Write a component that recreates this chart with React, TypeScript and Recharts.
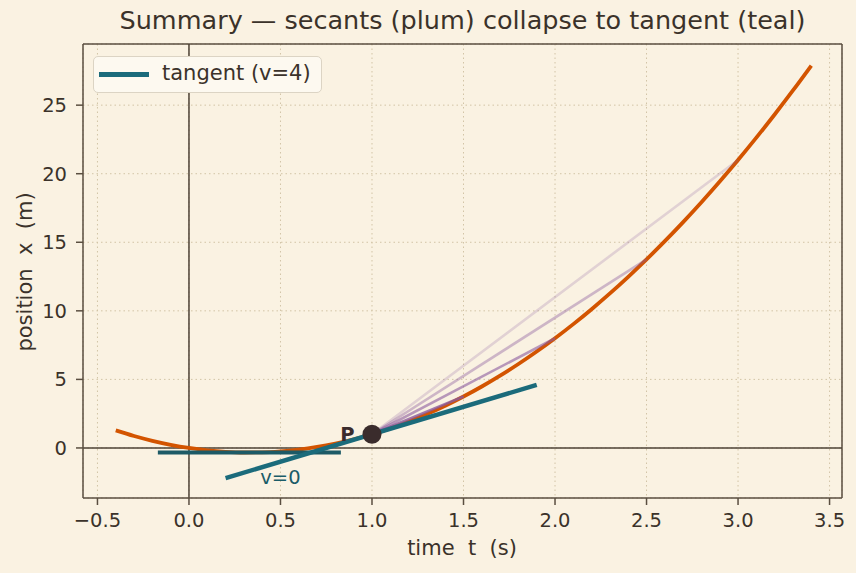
import React from 'react';
import { ComposedChart, Line, XAxis, YAxis, CartesianGrid, ReferenceDot, ReferenceLine } from 'recharts';

const curveT = [-0.4,-0.3,-0.2,-0.1,0,0.1,0.2,0.3,0.4,0.5,0.6,0.7,0.8,0.9,1.0,1.1,1.2,1.3,1.4,1.5,1.6,1.7,1.8,1.9,2.0,2.1,2.2,2.3,2.4,2.5,2.6,2.7,2.8,2.9,3.0,3.1,3.2,3.3,3.4];
const curveX = [1.28,0.87,0.52,0.23,0,-0.17,-0.28,-0.33,-0.32,-0.25,-0.12,0.07,0.32,0.63,1,1.43,1.92,2.47,3.08,3.75,4.48,5.27,6.12,7.03,8,9.03,10.12,11.27,12.48,13.75,15.08,16.47,17.92,19.43,21,22.63,24.32,26.07,27.88];

const pointT = 1;
const pointX = 1;
const secantEndT = [3, 2.5, 2, 1.5];
const secantEndX = [21, 13.75, 8, 3.75];
const tangentT = [0.2, 1.9];
const tangentX = [-2.2, 4.6];
const flatT = [-0.17, 0.83];
const flatX = [-0.33, -0.33];
const xTicks = [-0.5, 0, 0.5, 1.0, 1.5, 2.0, 2.5, 3.0, 3.5];
const yTicks = [0, 5, 10, 15, 20, 25];
const xDomain = [-0.579, 3.568];
const yDomain = [-3.65, 29.46];
const legendLabel = 'tangent (v=4)';
const titleText = 'Summary — secants (plum) collapse to tangent (teal)';

const curveData = curveT.map((t, i) => ({ t, x: curveX[i] }));
const secantData = secantEndT.map((t, i) => [{ t: pointT, x: pointX }, { t, x: secantEndX[i] }]);
const tangentData = tangentT.map((t, i) => ({ t, x: tangentX[i] }));
const flatData = flatT.map((t, i) => ({ t, x: flatX[i] }));
const hZero = [{ t: -5, x: 0 }, { t: 10, x: 0 }];
const vZero = [{ t: 0, x: -50 }, { t: 0, x: 100 }];

const secantOpacity = [0.22, 0.4, 0.6, 0.8];
const FONT = '"DejaVu Sans", sans-serif';
const TEXT = '#3b322a';
const AX = '#5a4e40';
const TEAL = '#1b6b7b';

const fmtX = (v: number) => (v < 0 ? '\u2212' + Math.abs(v).toFixed(1) : v.toFixed(1));

const LegendBox = () => (
  <div style={{ position: 'absolute', left: 93, top: 56, background: '#fdf9f0', border: '1.5px solid #dcd4c4', borderRadius: 5, width: 229, height: 37, boxSizing: 'border-box', fontFamily: FONT, fontSize: 21, color: TEXT }}>
    <div style={{ position: 'absolute', left: 5, top: 15, width: 50, height: 4.5, background: TEAL }} />
    <div style={{ position: 'absolute', left: 68, top: 3, whiteSpace: 'pre', lineHeight: '27px' }}>{legendLabel}</div>
  </div>
);

export default function App() {
  return (
    <div style={{ position: 'absolute', left: 0, top: 0, width: 856, height: 573, background: '#faf2e2' }}>
      <ComposedChart width={856} height={573} margin={{ top: 44, right: 14, bottom: 0, left: 0 }}>
        <CartesianGrid stroke="#d2c4a6" strokeDasharray="1.5 3" strokeWidth={1} />
        <XAxis
          dataKey="t"
          type="number"
          domain={xDomain}
          allowDataOverflow
          ticks={xTicks}
          tickFormatter={fmtX}
          height={75}
          tickSize={7}
          tickMargin={8}
          stroke={AX}
          strokeWidth={1.5}
          tick={{ fill: TEXT, fontSize: 19.5, fontFamily: FONT }}
          label={() => (
            <text x={462} y={555} textAnchor="middle" fill={TEXT} fontSize={21} fontFamily={FONT} style={{ whiteSpace: 'pre' }}>time  t  (s)</text>
          )}
        />
        <YAxis
          dataKey="x"
          type="number"
          domain={yDomain}
          allowDataOverflow
          ticks={yTicks}
          width={83}
          tickSize={7}
          tickMargin={9}
          stroke={AX}
          strokeWidth={1.5}
          tick={{ fill: TEXT, fontSize: 19.5, fontFamily: FONT }}
          label={() => (
            <text x={32} y={272} textAnchor="middle" fill={TEXT} fontSize={21} fontFamily={FONT} transform="rotate(-90 32 272)" style={{ whiteSpace: 'pre' }}>position  x  (m)</text>
          )}
        />
        <ReferenceLine y={yDomain[1]} stroke={AX} strokeWidth={1.5} />
        <ReferenceLine x={xDomain[1]} stroke={AX} strokeWidth={1.5} />
        <Line data={hZero} dataKey="x" stroke="#4d4236" strokeWidth={1.5} dot={false} isAnimationActive={false} legendType="none" />
        <Line data={vZero} dataKey="x" stroke="#4d4236" strokeWidth={1.5} dot={false} isAnimationActive={false} legendType="none" />
        <Line data={curveData} dataKey="x" type="monotone" stroke="#d35400" strokeWidth={3.8} dot={false} isAnimationActive={false} legendType="none" />
        {secantData.map((d, i) => (
          <Line key={i} data={d} dataKey="x" stroke="#8a5a9e" strokeOpacity={secantOpacity[i]} strokeWidth={2.6} dot={false} isAnimationActive={false} legendType="none" />
        ))}
        <Line data={flatData} dataKey="x" stroke="#1d5a66" strokeWidth={4} dot={false} isAnimationActive={false} legendType="none" />
        <Line data={tangentData} dataKey="x" stroke={TEAL} strokeWidth={4.5} dot={false} isAnimationActive={false} name={legendLabel} />
        <ReferenceDot x={pointT} y={pointX} r={9.5} fill="#3a2c2c" stroke="none"
          label={{ value: 'P', position: 'left', offset: 8, fill: '#3a2c2c', fontSize: 19.5, fontWeight: 'bold', fontFamily: FONT }} />
        <ReferenceDot x={0.5} y={-2.12} r={0} fill="none" stroke="none"
          label={{ value: 'v=0', position: 'center', fill: '#1a5c68', fontSize: 19.5, fontFamily: FONT }} />
      </ComposedChart>
      <div style={{ position: 'absolute', left: 0, width: 925, top: 5, textAlign: 'center', fontFamily: FONT, fontSize: 25.5, color: TEXT, whiteSpace: 'pre' }}>{titleText}</div>
      <LegendBox />
    </div>
  );
}
